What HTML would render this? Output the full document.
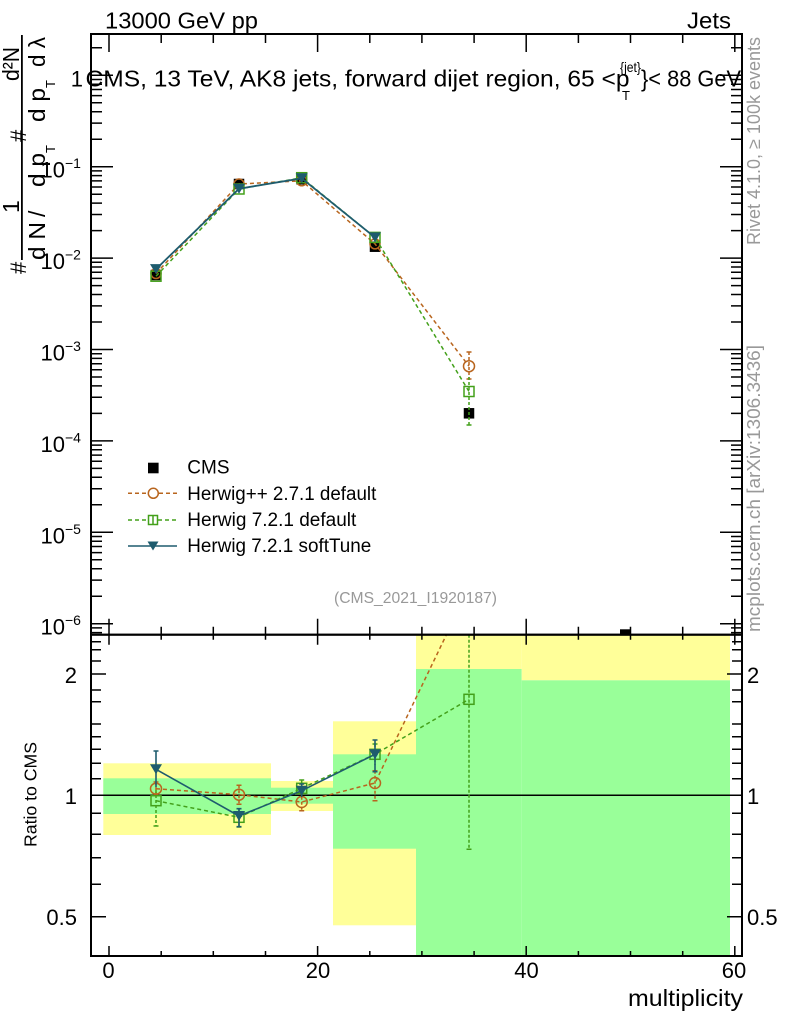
<!DOCTYPE html>
<html><head><meta charset="utf-8"><style>
html,body{margin:0;padding:0;background:#fff;}
svg{display:block;font-family:"Liberation Sans",Arial,sans-serif;}
</style></head><body>
<svg width="786" height="1024" viewBox="0 0 786 1024" xmlns="http://www.w3.org/2000/svg">
<defs>
<clipPath id="cm"><rect x="91" y="34" width="651" height="600.7"/></clipPath>
<clipPath id="cr"><rect x="91" y="634.7" width="651" height="321.3"/></clipPath>
</defs>
<rect width="786" height="1024" fill="#fff"/>

<!-- ===== RATIO PANEL ===== -->
<g clip-path="url(#cr)">
<rect x="103.3" y="763.3" width="167.7" height="71.7" fill="#ffff99"/>
<rect x="103.3" y="778.3" width="167.7" height="35.7" fill="#99ff99"/>
<rect x="271" y="781" width="62" height="30" fill="#ffff99"/>
<rect x="271" y="787.7" width="62" height="16" fill="#99ff99"/>
<rect x="333" y="721.3" width="83" height="204" fill="#ffff99"/>
<rect x="333" y="754.3" width="83" height="94.4" fill="#99ff99"/>
<rect x="416" y="634" width="105.7" height="35" fill="#ffff99"/>
<rect x="416" y="669" width="105.7" height="288" fill="#99ff99"/>
<rect x="521.7" y="634" width="208.3" height="46.3" fill="#ffff99"/>
<rect x="521.7" y="680.3" width="208.3" height="277" fill="#99ff99"/>
<line x1="91" y1="795.3" x2="742" y2="795.3" stroke="#000" stroke-width="1.5"/>

<!-- orange ratio -->
<g stroke="#b8651e" stroke-width="1.5" fill="none">
<polyline points="156,788.7 239,794.7 301.7,802 375,783 469,587.8" stroke-dasharray="4 3"/>
<path d="M156 782V795M239 785.3V804.3M301.7 796.7V810.7M375 770.7V800.7" stroke-dasharray="3 2"/>
<path d="M153.5 782h5M153.5 795h5M236.5 785.3h5M236.5 804.3h5M299.2 796.7h5M299.2 810.7h5M372.5 770.7h5M372.5 800.7h5"/>
<circle cx="156" cy="788.7" r="5.5"/><circle cx="239" cy="794.7" r="5.5"/><circle cx="301.7" cy="802" r="5.5"/><circle cx="375" cy="783" r="5.5"/>
</g>
<!-- green ratio -->
<g stroke="#43a01a" stroke-width="1.5" fill="none">
<polyline points="156,800.7 239,817.3 301.7,788.3 375,754.3 469,699.3" stroke-dasharray="4 3"/>
<path d="M156 790V826M239 808V827M301.7 780V797M375 744V765M469 634.7V849.3" stroke-dasharray="3 2"/>
<path d="M153.5 826h5M236.5 827h5M299.2 780h5M372.5 744h5M466.5 849.3h5"/>
<rect x="151" y="795.7" width="10" height="10"/><rect x="234" y="812.3" width="10" height="10"/><rect x="296.7" y="783.3" width="10" height="10"/><rect x="370" y="749.3" width="10" height="10"/><rect x="464" y="694.3" width="10" height="10"/>
</g>
<!-- teal ratio -->
<g stroke="#1e5c6e" stroke-width="1.6" fill="none">
<polyline points="156,769.3 239,816 301.7,790.7 375,754.3"/>
<path d="M156 751V787M239 808.7V826.7M301.7 784V797M375 740V771.7"/>
<path d="M153.5 751h5M236.5 808.7h5M236.5 826.7h5M299.2 784h5M372.5 740h5M372.5 771.7h5"/>
</g>
<g fill="#1e5c6e">
<polygon points="150,764.3 162,764.3 156,774.3"/>
<polygon points="233,811 245,811 239,821"/>
<polygon points="295.7,785.7 307.7,785.7 301.7,795.7"/>
<polygon points="369,749.3 381,749.3 375,759.3"/>
</g>
</g>

<!-- ===== MAIN PANEL ===== -->
<g clip-path="url(#cm)">
<g fill="#000">
<rect x="150.75" y="269.75" width="10.5" height="10.5"/>
<rect x="233.75" y="178.75" width="10.5" height="10.5"/>
<rect x="296.45" y="174.05" width="10.5" height="10.5"/>
<rect x="369.75" y="241.45" width="10.5" height="10.5"/>
<rect x="463.75" y="408.05" width="10.5" height="10.5"/>
<rect x="620" y="629.3" width="11" height="11"/>
</g>
<g stroke="#b8651e" stroke-width="1.5" fill="none">
<polyline points="156,273.5 239,184 301.7,180.8 375,243.9 469,366.2" stroke-dasharray="4 3"/>
<path d="M469 352V379" stroke-dasharray="3 2"/>
<path d="M466.5 352h5M466.5 379h5"/>
<circle cx="156" cy="273.5" r="5"/><circle cx="239" cy="184" r="5"/><circle cx="301.7" cy="180.8" r="5"/><circle cx="375" cy="243.9" r="5"/><circle cx="469" cy="366.2" r="5.5"/>
</g>
<g stroke="#43a01a" stroke-width="1.5" fill="none">
<polyline points="156,276.2 239,189 301.7,177.7 375,237.4 469,391.5" stroke-dasharray="4 3"/>
<path d="M469 377V425" stroke-dasharray="3 2"/>
<path d="M466.5 425h5"/>
<rect x="151" y="271.2" width="10" height="10"/><rect x="234" y="184" width="10" height="10"/><rect x="296.7" y="172.7" width="10" height="10"/><rect x="370" y="232.4" width="10" height="10"/><rect x="464" y="386.5" width="10" height="10"/>
</g>
<polyline points="156,269.1 239,188.7 301.7,178.3 375,237.4" stroke="#1e5c6e" stroke-width="1.8" fill="none"/>
<g fill="#1e5c6e">
<polygon points="150,264.1 162,264.1 156,274.1"/>
<polygon points="233,183.7 245,183.7 239,193.7"/>
<polygon points="295.7,173.3 307.7,173.3 301.7,183.3"/>
<polygon points="369,232.4 381,232.4 375,242.4"/>
</g>
</g>

<!-- ===== TICKS ===== -->
<g stroke="#000" stroke-width="1.5" fill="none">
<path d="M91 75.3h22M91 166.7h22M91 258.1h22M91 349.5h22M91 440.9h22M91 532.3h22M91 623.7h22"/>
<path d="M742 75.3h-22M742 166.7h-22M742 258.1h-22M742 349.5h-22M742 440.9h-22M742 532.3h-22M742 623.7h-22"/>
<path d="M91 47.8h11M91 139.2h11M91 123.1h11M91 111.7h11M91 102.8h11M91 95.6h11M91 89.5h11M91 84.2h11M91 79.5h11M91 230.6h11M91 214.5h11M91 203.1h11M91 194.2h11M91 187h11M91 180.9h11M91 175.6h11M91 170.9h11M91 322h11M91 305.9h11M91 294.5h11M91 285.6h11M91 278.4h11M91 272.3h11M91 267h11M91 262.3h11M91 413.4h11M91 397.3h11M91 385.9h11M91 377h11M91 369.8h11M91 363.7h11M91 358.4h11M91 353.7h11M91 504.8h11M91 488.7h11M91 477.3h11M91 468.4h11M91 461.2h11M91 455.1h11M91 449.8h11M91 445.1h11M91 596.2h11M91 580.1h11M91 568.7h11M91 559.8h11M91 552.6h11M91 546.5h11M91 541.2h11M91 536.5h11M91 627.9h11M91 632.6h11"/>
<path d="M742 47.8h-11M742 139.2h-11M742 123.1h-11M742 111.7h-11M742 102.8h-11M742 95.6h-11M742 89.5h-11M742 84.2h-11M742 79.5h-11M742 230.6h-11M742 214.5h-11M742 203.1h-11M742 194.2h-11M742 187h-11M742 180.9h-11M742 175.6h-11M742 170.9h-11M742 322h-11M742 305.9h-11M742 294.5h-11M742 285.6h-11M742 278.4h-11M742 272.3h-11M742 267h-11M742 262.3h-11M742 413.4h-11M742 397.3h-11M742 385.9h-11M742 377h-11M742 369.8h-11M742 363.7h-11M742 358.4h-11M742 353.7h-11M742 504.8h-11M742 488.7h-11M742 477.3h-11M742 468.4h-11M742 461.2h-11M742 455.1h-11M742 449.8h-11M742 445.1h-11M742 596.2h-11M742 580.1h-11M742 568.7h-11M742 559.8h-11M742 552.6h-11M742 546.5h-11M742 541.2h-11M742 536.5h-11M742 627.9h-11M742 632.6h-11"/>
<path d="M109 34v18M317.6 34v18M526.2 34v18M734.8 34v18"/>
<path d="M161.2 34v9M213.3 34v9M265.5 34v9M369.8 34v9M421.9 34v9M474.1 34v9M578.4 34v9M630.5 34v9M682.7 34v9"/>
<path d="M109 634.7v-16M317.6 634.7v-16M526.2 634.7v-16M734.8 634.7v-16"/>
<path d="M161.2 634.7v-8M213.3 634.7v-8M265.5 634.7v-8M369.8 634.7v-8M421.9 634.7v-8M474.1 634.7v-8M578.4 634.7v-8M630.5 634.7v-8M682.7 634.7v-8"/>
<path d="M109 634.7v10M317.6 634.7v10M526.2 634.7v10M734.8 634.7v10"/>
<path d="M161.2 634.7v5M213.3 634.7v5M265.5 634.7v5M369.8 634.7v5M421.9 634.7v5M474.1 634.7v5M578.4 634.7v5M630.5 634.7v5M682.7 634.7v5"/>
<path d="M109 956v-10M317.6 956v-10M526.2 956v-10M734.8 956v-10"/>
<path d="M161.2 956v-5M213.3 956v-5M265.5 956v-5M369.8 956v-5M421.9 956v-5M474.1 956v-5M578.4 956v-5M630.5 956v-5M682.7 956v-5"/>
<path d="M91 674h15M91 795.3h15M91 916.7h15M742 674h-15M742 795.3h-15M742 916.7h-15"/>
<path d="M91 641.7h10M91 649.7h10M91 661h10M91 690h10M91 701.7h10M91 724h10M91 736.7h10M91 749.3h10M91 763.3h10M91 778.7h10M91 813.3h10M91 834.3h10M91 857.7h10M91 884.3h10"/>
<path d="M742 641.7h-10M742 649.7h-10M742 661h-10M742 690h-10M742 701.7h-10M742 724h-10M742 736.7h-10M742 749.3h-10M742 763.3h-10M742 778.7h-10M742 813.3h-10M742 834.3h-10M742 857.7h-10M742 884.3h-10"/>
</g>

<rect x="91" y="34" width="651" height="600.7" fill="none" stroke="#000" stroke-width="2"/>
<rect x="91" y="634.7" width="651" height="321.3" fill="none" stroke="#000" stroke-width="2"/>

<!-- ===== TEXT ===== -->
<g fill="#000">
<text x="105" y="28.5" font-size="23.5" textLength="153" lengthAdjust="spacingAndGlyphs">13000 GeV pp</text>
<text x="687" y="28.5" font-size="23.5" textLength="44" lengthAdjust="spacingAndGlyphs">Jets</text>

<text x="85.5" y="86.7" font-size="23.5" textLength="544" lengthAdjust="spacingAndGlyphs">CMS, 13 TeV, AK8 jets, forward dijet region, 65 &lt;p</text>
<text x="620" y="72" font-size="14" textLength="21" lengthAdjust="spacingAndGlyphs">{jet}</text>
<text x="622" y="100" font-size="13">T</text>
<text x="641" y="86.7" font-size="23.5" textLength="100" lengthAdjust="spacingAndGlyphs">}&lt; 88 GeV</text>

<text x="83" y="86.5" font-size="22" text-anchor="end">1</text>
<text x="40.5" y="177.7" font-size="22">10<tspan font-size="14" dy="-9.5">−1</tspan></text>
<text x="40.5" y="269.1" font-size="22">10<tspan font-size="14" dy="-9.5">−2</tspan></text>
<text x="40.5" y="360.5" font-size="22">10<tspan font-size="14" dy="-9.5">−3</tspan></text>
<text x="40.5" y="451.9" font-size="22">10<tspan font-size="14" dy="-9.5">−4</tspan></text>
<text x="40.5" y="543.3" font-size="22">10<tspan font-size="14" dy="-9.5">−5</tspan></text>
<text x="40.5" y="634.7" font-size="22">10<tspan font-size="14" dy="-9.5">−6</tspan></text>

<text x="77" y="683" font-size="22" text-anchor="end">2</text>
<text x="77" y="804" font-size="22" text-anchor="end">1</text>
<text x="77" y="925" font-size="22" text-anchor="end">0.5</text>
<text x="747" y="683" font-size="22">2</text>
<text x="747" y="804" font-size="22">1</text>
<text x="747" y="925" font-size="22">0.5</text>

<text x="108.5" y="978" font-size="22" text-anchor="middle">0</text>
<text x="318" y="978" font-size="22" text-anchor="middle">20</text>
<text x="526.5" y="978" font-size="22" text-anchor="middle">40</text>
<text x="734" y="978" font-size="22" text-anchor="middle">60</text>
<text x="743" y="1006" font-size="23" text-anchor="end" textLength="115" lengthAdjust="spacingAndGlyphs">multiplicity</text>

<text transform="translate(36.5,847) rotate(-90)" font-size="17.5" textLength="105" lengthAdjust="spacingAndGlyphs">Ratio to CMS</text>

<rect x="21" y="35" width="1.8" height="225"/>
<text transform="translate(45,260) rotate(-90)" font-size="23" textLength="38" lengthAdjust="spacingAndGlyphs">d N</text>
<text transform="translate(45,217) rotate(-90)" font-size="23">/</text>
<text transform="translate(45,187) rotate(-90)" font-size="23" textLength="34" lengthAdjust="spacingAndGlyphs">d p</text>
<text transform="translate(55,153) rotate(-90)" font-size="13">T</text>
<text transform="translate(45,122) rotate(-90)" font-size="23" textLength="34" lengthAdjust="spacingAndGlyphs">d p</text>
<text transform="translate(55,88) rotate(-90)" font-size="13">T</text>
<text transform="translate(45,67) rotate(-90)" font-size="23" textLength="30" lengthAdjust="spacingAndGlyphs">d λ</text>
<text transform="translate(19,81) rotate(-90)" font-size="23" textLength="34" lengthAdjust="spacingAndGlyphs">d²N</text>
<text transform="translate(26,142) rotate(-90)" font-size="22">#</text>
<text transform="translate(19,213) rotate(-90)" font-size="23">1</text>
<text transform="translate(26,274) rotate(-90)" font-size="22">#</text>
</g>

<g fill="#999">
<text transform="translate(760,245) rotate(-90)" font-size="18" textLength="208" lengthAdjust="spacingAndGlyphs">Rivet 4.1.0, ≥ 100k events</text>
<text transform="translate(760,632) rotate(-90)" font-size="18" textLength="287" lengthAdjust="spacingAndGlyphs">mcplots.cern.ch [arXiv:1306.3436]</text>
<text x="334" y="603" font-size="15.5" textLength="163" lengthAdjust="spacingAndGlyphs">(CMS_2021_I1920187)</text>
</g>

<!-- legend -->
<rect x="148" y="462.7" width="10.6" height="10.6" fill="#000"/>
<text x="187.3" y="473.3" font-size="19">CMS</text>
<g fill="none" stroke-width="1.5">
<path d="M128 493.3H148M159 493.3H177" stroke="#b8651e" stroke-dasharray="4 3"/>
<circle cx="153.3" cy="493.3" r="5" stroke="#b8651e"/>
<path d="M128 520H148.5M158 520H177" stroke="#43a01a" stroke-dasharray="4 3"/>
<rect x="148.5" y="515.5" width="9" height="9" stroke="#43a01a"/>
<path d="M153 515.5V524.5" stroke="#43a01a"/>
<path d="M128 546H177" stroke="#1e5c6e" stroke-width="1.6"/>
</g>
<polygon points="147.5,541.5 158.5,541.5 153,550.5" fill="#1e5c6e"/>
<text x="187.3" y="500" font-size="19" textLength="189" lengthAdjust="spacingAndGlyphs">Herwig++ 2.7.1 default</text>
<text x="187.3" y="526" font-size="19">Herwig 7.2.1 default</text>
<text x="187.3" y="552" font-size="19" textLength="184" lengthAdjust="spacingAndGlyphs">Herwig 7.2.1 softTune</text>
</svg>
</body></html>
